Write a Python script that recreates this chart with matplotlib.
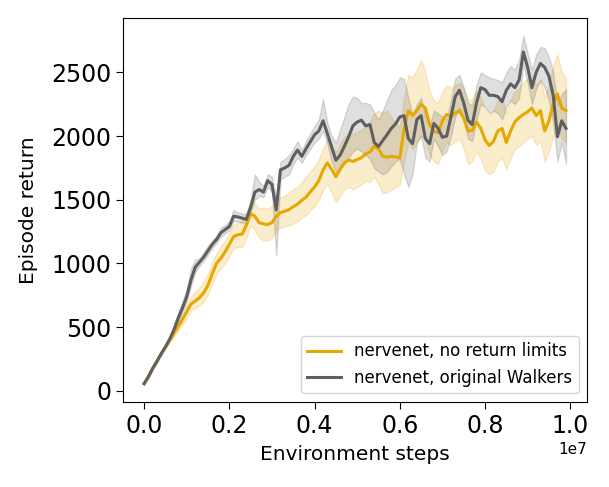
import matplotlib
matplotlib.use("Agg")
import matplotlib.pyplot as plt
import numpy as np

# environment steps, in millions
steps_m = [0.0, 0.1, 0.2, 0.3, 0.4, 0.5, 0.6, 0.7, 0.8, 0.9,
           1.0, 1.1, 1.2, 1.3, 1.4, 1.5, 1.6, 1.7, 1.8, 1.9,
           2.0, 2.1, 2.2, 2.3, 2.4, 2.5, 2.6, 2.7, 2.8, 2.9,
           3.0, 3.1, 3.2, 3.3, 3.4, 3.5, 3.6, 3.7, 3.8, 3.9,
           4.0, 4.1, 4.2, 4.3, 4.4, 4.5, 4.6, 4.7, 4.8, 4.9,
           5.0, 5.1, 5.2, 5.3, 5.4, 5.5, 5.6, 5.7, 5.8, 5.9,
           6.0, 6.1, 6.2, 6.3, 6.4, 6.5, 6.6, 6.7, 6.8, 6.9,
           7.0, 7.1, 7.2, 7.3, 7.4, 7.5, 7.6, 7.7, 7.8, 7.9,
           8.0, 8.1, 8.2, 8.3, 8.4, 8.5, 8.6, 8.7, 8.8, 8.9,
           9.0, 9.1, 9.2, 9.3, 9.4, 9.5, 9.6, 9.7, 9.8, 9.9]

# nervenet, no return limits
no_limits_mean = [55, 110, 175, 230, 290, 340, 395, 450, 505, 560,
                  620, 680, 705, 730, 770, 830, 920, 1000, 1040, 1090,
                  1150, 1210, 1225, 1230, 1300, 1390, 1370, 1320, 1310, 1305,
                  1320, 1370, 1398, 1410, 1422, 1445, 1465, 1495, 1520, 1562,
                  1600, 1650, 1734, 1790, 1740, 1680, 1740, 1790, 1812, 1800,
                  1815, 1830, 1860, 1875, 1920, 1900, 1840, 1835, 1840, 1835,
                  1830, 2050, 2200, 2160, 2200, 2250, 2220, 2090, 2040, 2025,
                  2120, 2170, 2155, 2180, 2200, 2140, 2040, 2045, 2110, 2060,
                  1970, 1925, 1960, 2040, 2060, 1950, 2040, 2110, 2145, 2170,
                  2190, 2220, 2160, 2200, 2040, 2120, 2250, 2330, 2220, 2200]
no_limits_low = [50, 100, 165, 220, 280, 330, 385, 420, 470, 520,
                 570, 630, 650, 670, 700, 760, 840, 920, 960, 1000,
                 1060, 1120, 1130, 1130, 1200, 1300, 1260, 1200, 1180, 1180,
                 1200, 1260, 1280, 1290, 1300, 1310, 1330, 1360, 1380, 1420,
                 1450, 1500, 1580, 1620, 1560, 1480, 1530, 1580, 1600, 1580,
                 1600, 1620, 1650, 1640, 1680, 1620, 1550, 1560, 1580, 1600,
                 1620, 1800, 1950, 1900, 1950, 2000, 1980, 1850, 1800, 1780,
                 1880, 1950, 1930, 1960, 1980, 1900, 1780, 1800, 1880, 1820,
                 1730, 1700, 1720, 1800, 1830, 1740, 1820, 1900, 1920, 1950,
                 1980, 2000, 1930, 1960, 1800, 1880, 2000, 2080, 1980, 1950]
no_limits_high = [60, 120, 185, 240, 300, 350, 405, 480, 540, 600,
                  670, 740, 780, 810, 860, 920, 1010, 1080, 1130, 1180,
                  1240, 1300, 1320, 1330, 1400, 1480, 1470, 1430, 1440, 1430,
                  1450, 1490, 1520, 1530, 1560, 1580, 1600, 1640, 1680, 1720,
                  1760, 1820, 1900, 1980, 1930, 1870, 1940, 1990, 2020, 2020,
                  2030, 2050, 2080, 2110, 2180, 2200, 2180, 2200, 2150, 2100,
                  2070, 2300, 2480, 2460, 2520, 2600, 2500, 2350, 2280, 2260,
                  2350, 2400, 2380, 2400, 2420, 2380, 2280, 2290, 2350, 2300,
                  2210, 2160, 2200, 2280, 2300, 2180, 2280, 2350, 2380, 2420,
                  2450, 2460, 2400, 2440, 2300, 2400, 2560, 2640, 2500, 2460]

# nervenet, original Walkers
original_mean = [55, 110, 175, 230, 290, 345, 405, 480, 570, 650,
                 740, 870, 970, 1010, 1050, 1100, 1150, 1187, 1240, 1265,
                 1290, 1370, 1365, 1355, 1345, 1440, 1560, 1580, 1560, 1650,
                 1620, 1420, 1734, 1750, 1770, 1840, 1890, 1840, 1900, 1955,
                 2010, 2040, 2120, 2020, 1914, 1810, 1850, 1920, 1995, 2080,
                 2110, 2125, 2080, 2090, 1950, 1917, 1965, 2010, 2060, 2095,
                 2150, 2160, 1980, 1940, 2130, 2160, 1980, 1940, 2100, 2060,
                 1990, 2000, 2150, 2310, 2360, 2260, 2125, 2090, 2260, 2380,
                 2365, 2320, 2320, 2310, 2270, 2359, 2410, 2380, 2440, 2660,
                 2541, 2380, 2500, 2570, 2540, 2470, 2320, 1995, 2120, 2060]
original_low = [50, 100, 165, 220, 280, 335, 395, 465, 540, 620,
                700, 820, 930, 980, 1020, 1070, 1120, 1160, 1210, 1235,
                1260, 1330, 1330, 1320, 1310, 1400, 1500, 1530, 1520, 1600,
                1560, 1060, 1660, 1680, 1700, 1780, 1830, 1790, 1850, 1900,
                1950, 1980, 2040, 1940, 1800, 1720, 1740, 1780, 1830, 1880,
                1900, 1880, 1850, 1820, 1750, 1720, 1700, 1720, 1760, 1800,
                1820, 1700, 1600, 1700, 1950, 2000, 1830, 1800, 1980, 1920,
                1850, 1880, 2000, 2150, 2220, 2130, 1980, 1960, 2130, 2250,
                2230, 2180, 2200, 2180, 2130, 2230, 2280, 2250, 2300, 2560,
                2420, 2250, 2370, 2440, 2380, 2280, 2100, 1800, 1950, 1780]
original_high = [60, 120, 185, 240, 300, 355, 420, 500, 620, 700,
                 800, 960, 1030, 1040, 1090, 1140, 1180, 1220, 1280, 1300,
                 1330, 1420, 1400, 1390, 1390, 1500, 1700, 1640, 1610, 1700,
                 1680, 1500, 1800, 1820, 1850, 1900, 1960, 1890, 1960, 2020,
                 2080, 2130, 2290, 2100, 2000, 1950, 2050, 2150, 2250, 2310,
                 2300, 2260, 2260, 2250, 2180, 2130, 2200, 2280, 2360, 2400,
                 2460, 2450, 2300, 2170, 2250, 2300, 2150, 2080, 2200, 2180,
                 2150, 2130, 2280, 2450, 2480, 2380, 2260, 2240, 2400, 2500,
                 2480, 2460, 2450, 2440, 2420, 2500, 2550, 2520, 2600, 2790,
                 2650, 2520, 2640, 2700, 2690, 2620, 2500, 2250, 2330, 2370]

yellow = "#E6A700"
grey = "#5F5F5F"

steps = np.array(steps_m) * 1e6

fig = plt.figure(figsize=(6.09, 4.87), dpi=100)
ax = fig.add_axes([0.202, 0.175, 0.762, 0.788])

ax.fill_between(steps, no_limits_low, no_limits_high, color=yellow, alpha=0.2, linewidth=1)
ax.plot(steps, no_limits_mean, color=yellow, linewidth=2.2, label="nervenet, no return limits")
ax.fill_between(steps, original_low, original_high, color=grey, alpha=0.2, linewidth=1)
ax.plot(steps, original_mean, color=grey, linewidth=2.2, label="nervenet, original Walkers")

ax.set_xlabel("Environment steps", fontsize=14.5, labelpad=5.5)
ax.set_ylabel("Episode return", fontsize=14.5, labelpad=9)
ax.tick_params(axis="both", labelsize=17, length=5)
ax.set_yticks([0, 500, 1000, 1500, 2000, 2500])
ax.xaxis.get_offset_text().set_fontsize(11)
ax.legend(loc="lower right", fontsize=12)

fig.savefig("out.png", dpi=100)
